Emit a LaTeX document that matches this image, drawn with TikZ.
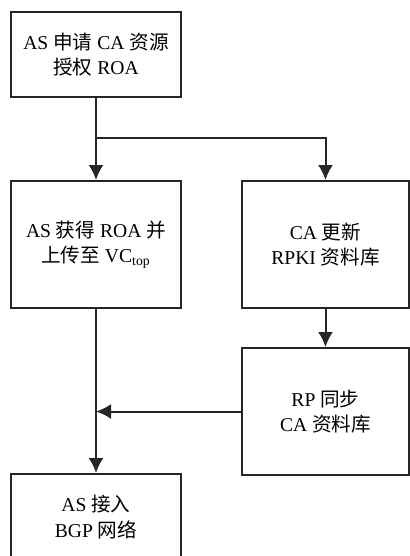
\documentclass[tikz,border=0pt]{standalone}
\usepackage{fontspec}
\setmainfont{Liberation Serif}
\newfontfamily\cjk{Noto Sans CJK SC}
\usetikzlibrary{positioning,arrows.meta}
\tikzstyle{flow box}=[draw=black!85,line width=1pt,align=center,font=\fontsize{9.8pt}{12.7pt}\selectfont,minimum width=85pt,minimum height=63.5pt,inner sep=2pt]
\tikzstyle{flow edge}=[-{Latex[length=7.5pt,width=7.5pt]},draw=black!85,line width=1pt]
\newcommand{\zh}[1]{{\cjk #1}}
\newcommand{\flownode}[3][]{
  \node [flow box, #1] (#2) {#3}
}

\begin{document}
\begin{tikzpicture}[x=0.5pt,y=-0.5pt]
        \useasboundingbox (0,0) rectangle (409,556);
        \flownode[minimum height=42.5pt, at={(96,54.5)}]{apply}{AS \zh{申请} CA \zh{资源}\\\zh{授权} ROA};
        \flownode[below=41pt of apply]{roa}{AS \zh{获得} ROA \zh{并}\\\zh{上传至} VC\textsubscript{top}};
        \flownode[right=29.5pt of roa, minimum width=83.5pt]{update}{CA \zh{更新}\\RPKI \zh{资料库}};
        \flownode[below=19pt of update, minimum width=83.5pt]{sync}{RP \zh{同步}\\CA \zh{资料库}};
        \flownode[below=82pt of roa, minimum height=43pt]{bgp}{AS \zh{接入}\\BGP \zh{网络}};
        \coordinate[below=20pt of apply] (split);

            \draw[flow edge] (apply) -- (roa);
            \draw[flow edge] (split) -| (update);

            \draw[flow edge] (update) -- (sync);
            \draw[flow edge] (sync.west) -- (sync.west -| roa.south);

            \draw[flow edge] (roa) -- (bgp);
\end{tikzpicture}
\end{document}
